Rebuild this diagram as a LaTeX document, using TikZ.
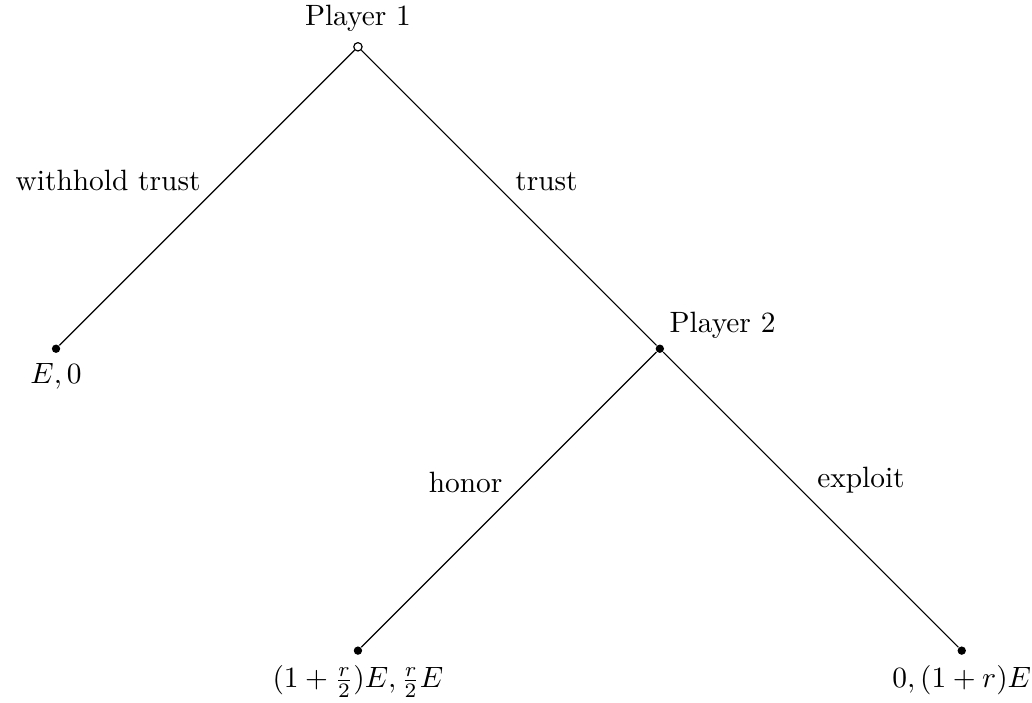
\documentclass[tikz,border=0pt]{standalone}
\usetikzlibrary{positioning}
\tikzset{
  decision/.style = {
    circle,
    draw,
    fill=white,
    inner sep=0pt,
    minimum size=0.1cm,
  },
  terminal/.style = {
    circle,
    fill,
    inner sep=0pt,
    minimum size=0.1cm,
  },
  move/.style = {
    inner sep=2pt,
  },
  node distance=3.61cm and 3.61cm,
}

\begin{document}
\begin{tikzpicture}[on grid]
\useasboundingbox (0,0) rectangle (12.34,8.40);

\node(Root)[decision, label=above:Player 1] at (4.28,7.84) {};

\node(Withhold)[terminal, label=below:{$E,0$}, below left=of Root] {};

\node(Second)[terminal, label={[inner sep=2pt]above right:Player 2}, below right=of Root] {};

\node(Honor)[terminal, label=below:{$(1+\frac{r}{2})E,\frac{r}{2}E$}, below left=of Second] {};

\node(Exploit)[terminal, label=below:{$0,(1+r)E$}, below right=of Second] {};

\draw (Root) -- node[move, above left] {withhold trust} (Withhold);
\draw (Root) -- node[move, above right] {trust} (Second);
\draw (Second) -- node[move, above left] {honor} (Honor);
\draw (Second) -- node[move, above right] {exploit} (Exploit);

\end{tikzpicture}
\end{document}
